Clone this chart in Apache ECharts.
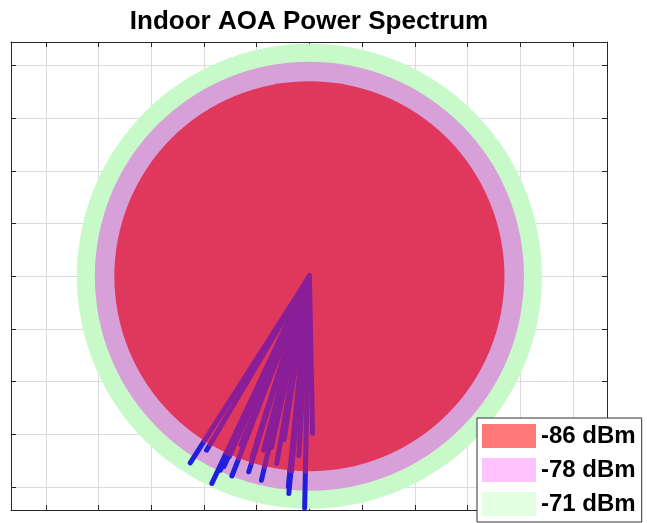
<!DOCTYPE html>
<html>
<head>
<meta charset="utf-8">
<script src="https://cdn.jsdelivr.net/npm/echarts@6/dist/echarts.min.js"></script>
<style>
  html, body { margin: 0; padding: 0; background: #fff; }
  #aoa { width: 647px; height: 523px; }
</style>
</head>
<body>
<div id="aoa"></div>
<script>
  // power levels (legend) and the radius of each contour
  const levels = ['-86 dBm', '-78 dBm', '-71 dBm'];
  const radii = [3.70, 4.07, 4.41];
  // end points of the arrival rays, all leaving the origin
  const rayX = [-2.26, -1.85, -1.69, -1.62, -1.52, -1.47, -1.15, -1.09, -0.87, -0.91, -0.39, -0.40, -0.34, -0.09, 0.06,
                -1.30, -1.00, -0.62, -0.72, -0.20, -1.95, -0.48];
  const rayY = [-3.54, -3.93, -3.68, -3.61, -3.42, -3.79, -3.71, -3.45, -3.30, -3.87, -4.12, -3.99, -3.70, -4.40, -2.98,
                -3.20, -3.15, -3.55, -3.25, -3.40, -3.30, -3.10];
  // tick positions
  const xTicks = [-5, -4, -3, -2, -1, 0, 1, 2, 3, 4, 5];
  const yTicks = [-4, -3, -2, -1, 0, 1, 2, 3, 4];

  const fillColors = ['#e0385c', '#d7a0d9', '#c8f9c8'];
  const legendColors = ['#ff7878', '#ffc2ff', '#e2ffe2'];

  const myChart = echarts.init(document.getElementById('aoa'));

  function circleSeries(i) {
    return {
      name: levels[i],
      type: 'custom',
      xAxisIndex: 0,
      yAxisIndex: 0,
      itemStyle: { color: fillColors[i] },
      data: [[0, 0, radii[i]]],
      renderItem(params, api) {
        const c = api.coord([api.value(0), api.value(1)]);
        const e = api.coord([api.value(0) + api.value(2), api.value(1)]);
        return {
          type: 'circle',
          shape: { cx: c[0], cy: c[1], r: e[0] - c[0] },
          style: { fill: fillColors[i] },
        };
      },
    };
  }

  // inner = true draws only the part of each ray inside the -86 dBm disc
  function raySeries(inner) {
    return {
      type: 'custom',
      xAxisIndex: 0,
      yAxisIndex: 0,
      silent: true,
      data: rayX.map((x, i) => [x, rayY[i]]),
      renderItem(params, api) {
        let x = api.value(0);
        let y = api.value(1);
        if (inner) {
          const len = Math.sqrt(x * x + y * y);
          const t = Math.min(1, radii[0] / len);
          x *= t;
          y *= t;
        }
        const p0 = api.coord([0, 0]);
        const p1 = api.coord([x, y]);
        return {
          type: 'line',
          shape: { x1: p0[0], y1: p0[1], x2: p1[0], y2: p1[1] },
          style: {
            stroke: inner ? '#8a1e98' : '#2020dc',
            lineWidth: 5,
            lineCap: 'round',
          },
        };
      },
    };
  }

  const axisCommon = {
    type: 'value',
    axisLine: { show: true, onZero: false, lineStyle: { color: '#262626', width: 1 } },
    axisLabel: { show: false },
  };

  myChart.setOption({
    animation: false,
    graphic: [
      {
        type: 'text',
        x: 309,
        y: 9,
        style: {
          text: 'Indoor AOA Power Spectrum',
          fontFamily: 'Liberation Sans, Arial, sans-serif',
          fontWeight: 'bold',
          fontSize: 26,
          fill: '#000',
          textAlign: 'center',
        },
      },
    ],
    grid: { left: 11, right: 40, top: 42, bottom: 13 },
    legend: {
      orient: 'vertical',
      left: 477,
      top: 418,
      padding: [6, 6, 6, 5],
      itemGap: 10,
      itemWidth: 54,
      itemHeight: 24,
      icon: 'rect',
      backgroundColor: '#fff',
      borderColor: '#333',
      borderWidth: 1,
      selectedMode: false,
      textStyle: {
        fontFamily: 'Liberation Sans, Arial, sans-serif',
        fontWeight: 'bold',
        fontSize: 24,
        color: '#000',
      },
      data: levels.map((name, i) => ({ name, itemStyle: { color: legendColors[i] } })),
    },
    xAxis: [
      {
        ...axisCommon,
        position: 'bottom',
        min: -5.66,
        max: 5.645,
        axisTick: { show: true, inside: true, length: 5, customValues: xTicks, lineStyle: { color: '#262626' } },
        splitLine: { show: true, lineStyle: { color: '#dcdcdc', width: 1 } },
      },
      {
        ...axisCommon,
        position: 'top',
        min: -5.66,
        max: 5.645,
        axisTick: { show: true, inside: true, length: 5, customValues: xTicks, lineStyle: { color: '#262626' } },
        splitLine: { show: false },
      },
    ],
    yAxis: [
      {
        ...axisCommon,
        position: 'left',
        min: -4.435,
        max: 4.446,
        axisTick: { show: true, inside: true, length: 5, customValues: yTicks, lineStyle: { color: '#262626' } },
        splitLine: { show: true, lineStyle: { color: '#dcdcdc', width: 1 } },
      },
      {
        ...axisCommon,
        position: 'right',
        min: -4.435,
        max: 4.446,
        axisTick: { show: true, inside: true, length: 5, customValues: yTicks, lineStyle: { color: '#262626' } },
        splitLine: { show: false },
      },
    ],
    series: [
      circleSeries(2),
      circleSeries(1),
      raySeries(false),
      circleSeries(0),
      raySeries(true),
    ],
  });
</script>
</body>
</html>
